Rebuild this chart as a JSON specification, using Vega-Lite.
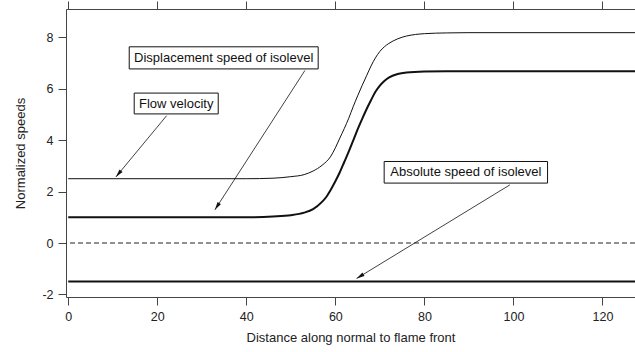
{
  "$schema": "https://vega.github.io/schema/vega-lite/v6.json",
  "width": 569,
  "height": 288,
  "autosize": "none",
  "padding": {"left": 66, "top": 9, "right": 0, "bottom": 55},
  "background": "white",
  "config": {
    "view": {"stroke": null},
    "font": "Liberation Sans",
    "axis": {
      "grid": false,
      "domainColor": "#444",
      "tickColor": "#444",
      "labelColor": "#222",
      "titleColor": "#222",
      "labelFontSize": 12.5,
      "titleFontSize": 13,
      "titleFontWeight": "normal",
      "labelFont": "Liberation Sans",
      "titleFont": "Liberation Sans",
      "tickSize": 8,
      "labelPadding": 5
    }
  },
  "datasets": {
    "curves": [
      {"series": "flow", "x": 0, "y": 2.5}, {"series": "flow", "x": 40, "y": 2.5}, {"series": "flow", "x": 46, "y": 2.52},
      {"series": "flow", "x": 50, "y": 2.58}, {"series": "flow", "x": 53, "y": 2.66}, {"series": "flow", "x": 55, "y": 2.8},
      {"series": "flow", "x": 57, "y": 3.02}, {"series": "flow", "x": 59, "y": 3.38}, {"series": "flow", "x": 60, "y": 3.7},
      {"series": "flow", "x": 61, "y": 4.08}, {"series": "flow", "x": 62, "y": 4.45}, {"series": "flow", "x": 63, "y": 4.85},
      {"series": "flow", "x": 64, "y": 5.3}, {"series": "flow", "x": 65, "y": 5.72}, {"series": "flow", "x": 66, "y": 6.12},
      {"series": "flow", "x": 67, "y": 6.5}, {"series": "flow", "x": 68, "y": 6.88}, {"series": "flow", "x": 69, "y": 7.2},
      {"series": "flow", "x": 70, "y": 7.45}, {"series": "flow", "x": 71, "y": 7.63}, {"series": "flow", "x": 72, "y": 7.76},
      {"series": "flow", "x": 74, "y": 7.94}, {"series": "flow", "x": 76, "y": 8.05}, {"series": "flow", "x": 78, "y": 8.11},
      {"series": "flow", "x": 80, "y": 8.14}, {"series": "flow", "x": 85, "y": 8.17}, {"series": "flow", "x": 90, "y": 8.18},
      {"series": "flow", "x": 128, "y": 8.18},
      {"series": "disp", "x": 0, "y": 1.0}, {"series": "disp", "x": 40, "y": 1.0}, {"series": "disp", "x": 46, "y": 1.03},
      {"series": "disp", "x": 50, "y": 1.08}, {"series": "disp", "x": 53, "y": 1.18}, {"series": "disp", "x": 55, "y": 1.32},
      {"series": "disp", "x": 57, "y": 1.6}, {"series": "disp", "x": 58, "y": 1.8}, {"series": "disp", "x": 59, "y": 2.08},
      {"series": "disp", "x": 60, "y": 2.4}, {"series": "disp", "x": 61, "y": 2.75}, {"series": "disp", "x": 62, "y": 3.15},
      {"series": "disp", "x": 63, "y": 3.55}, {"series": "disp", "x": 64, "y": 3.98}, {"series": "disp", "x": 65, "y": 4.42},
      {"series": "disp", "x": 66, "y": 4.82}, {"series": "disp", "x": 67, "y": 5.2}, {"series": "disp", "x": 68, "y": 5.55},
      {"series": "disp", "x": 69, "y": 5.88}, {"series": "disp", "x": 70, "y": 6.12}, {"series": "disp", "x": 71, "y": 6.3},
      {"series": "disp", "x": 72, "y": 6.43}, {"series": "disp", "x": 74, "y": 6.57}, {"series": "disp", "x": 76, "y": 6.63},
      {"series": "disp", "x": 80, "y": 6.67}, {"series": "disp", "x": 85, "y": 6.68}, {"series": "disp", "x": 128, "y": 6.68},
      {"series": "abs", "x": 0, "y": -1.5}, {"series": "abs", "x": 128, "y": -1.5}
    ],
    "zero": [{"y": 0}],
    "boxes": [
      {"label": "Displacement speed of isolevel", "x1": 13.7, "x2": 56.14, "y1": 7.63, "y2": 6.77, "xc": 34.92, "yc": 7.2},
      {"label": "Flow velocity", "x1": 14.82, "x2": 33.69, "y1": 5.83, "y2": 5.02, "xc": 24.25, "yc": 5.42},
      {"label": "Absolute speed of isolevel", "x1": 70.96, "x2": 107.66, "y1": 3.17, "y2": 2.33, "xc": 89.31, "yc": 2.75}
    ],
    "arrows": [
      {"label": "flow", "x": 22.1, "y": 4.95, "x2": 10.71, "y2": 2.57},
      {"label": "disp", "x": 53.16, "y": 6.71, "x2": 32.94, "y2": 1.29},
      {"label": "abs", "x": 99.19, "y": 2.26, "x2": 64.77, "y2": -1.38}
    ]
  },
  "resolve": {"axis": {"x": "independent", "y": "independent"}},
  "layer": [
    {
      "data": {"name": "curves"},
      "transform": [{"filter": "datum.series === 'flow'"}],
      "mark": {"type": "line", "color": "#111", "strokeWidth": 1, "clip": true, "interpolate": "monotone"},
      "encoding": {
        "x": {"field": "x", "type": "quantitative", "scale": {"domain": [-0.5, 127.3], "nice": false, "zero": false},
          "axis": {"orient": "bottom", "values": [0, 20, 40, 60, 80, 100, 120], "title": "Distance along normal to flame front", "titlePadding": 9}},
        "y": {"field": "y", "type": "quantitative", "scale": {"domain": [-2.1, 9.1], "nice": false, "zero": false},
          "axis": {"orient": "left", "values": [-2, 0, 2, 4, 6, 8], "title": "Normalized speeds", "titlePadding": 14,
            "labelExpr": "replace(datum.label, '\u2212', '-')"}}
      }
    },
    {
      "data": {"name": "curves"},
      "transform": [{"filter": "datum.series !== 'flow'"}],
      "mark": {"type": "line", "color": "#111", "strokeWidth": 2, "clip": true, "interpolate": "monotone"},
      "encoding": {
        "x": {"field": "x", "type": "quantitative", "axis": null},
        "y": {"field": "y", "type": "quantitative", "axis": null},
        "detail": {"field": "series"}
      }
    },
    {
      "data": {"name": "zero"},
      "mark": {"type": "rule", "color": "#222", "strokeWidth": 1, "strokeDash": [5, 3]},
      "encoding": {"y": {"field": "y", "type": "quantitative", "axis": null}}
    },
    {
      "data": {"name": "arrows"},
      "mark": {"type": "rule", "color": "#111", "strokeWidth": 0.8},
      "encoding": {
        "x": {"field": "x", "type": "quantitative", "axis": null},
        "y": {"field": "y", "type": "quantitative", "axis": null},
        "x2": {"field": "x2"},
        "y2": {"field": "y2"}
      }
    },
    {
      "data": {"name": "arrows"},
      "transform": [{"filter": "datum.label === 'flow'"}],
      "mark": {"type": "point", "shape": "M0,0 L-0.5,2 L0.5,2 Z", "size": 64, "filled": true, "color": "#111", "opacity": 1, "angle": 219.7},
      "encoding": {
        "x": {"field": "x2", "type": "quantitative", "axis": null},
        "y": {"field": "y2", "type": "quantitative", "axis": null}
      }
    },
    {
      "data": {"name": "arrows"},
      "transform": [{"filter": "datum.label === 'disp'"}],
      "mark": {"type": "point", "shape": "M0,0 L-0.5,2 L0.5,2 Z", "size": 64, "filled": true, "color": "#111", "opacity": 1, "angle": 212.9},
      "encoding": {
        "x": {"field": "x2", "type": "quantitative", "axis": null},
        "y": {"field": "y2", "type": "quantitative", "axis": null}
      }
    },
    {
      "data": {"name": "arrows"},
      "transform": [{"filter": "datum.label === 'abs'"}],
      "mark": {"type": "point", "shape": "M0,0 L-0.5,2 L0.5,2 Z", "size": 64, "filled": true, "color": "#111", "opacity": 1, "angle": 238.7},
      "encoding": {
        "x": {"field": "x2", "type": "quantitative", "axis": null},
        "y": {"field": "y2", "type": "quantitative", "axis": null}
      }
    },
    {
      "data": {"name": "boxes"},
      "mark": {"type": "rect", "fill": "white", "stroke": "#111", "strokeWidth": 1},
      "encoding": {
        "x": {"field": "x1", "type": "quantitative",
          "axis": {"orient": "top", "values": [0, 20, 40, 60, 80, 100, 120], "labels": false, "title": null}},
        "x2": {"field": "x2"},
        "y": {"field": "y1", "type": "quantitative", "axis": null},
        "y2": {"field": "y2"}
      }
    },
    {
      "data": {"name": "boxes"},
      "mark": {"type": "text", "font": "Liberation Sans", "fontSize": 13, "color": "#111", "align": "center", "baseline": "middle"},
      "encoding": {
        "x": {"field": "xc", "type": "quantitative", "axis": null},
        "y": {"field": "yc", "type": "quantitative", "axis": null},
        "text": {"field": "label"}
      }
    }
  ]
}
